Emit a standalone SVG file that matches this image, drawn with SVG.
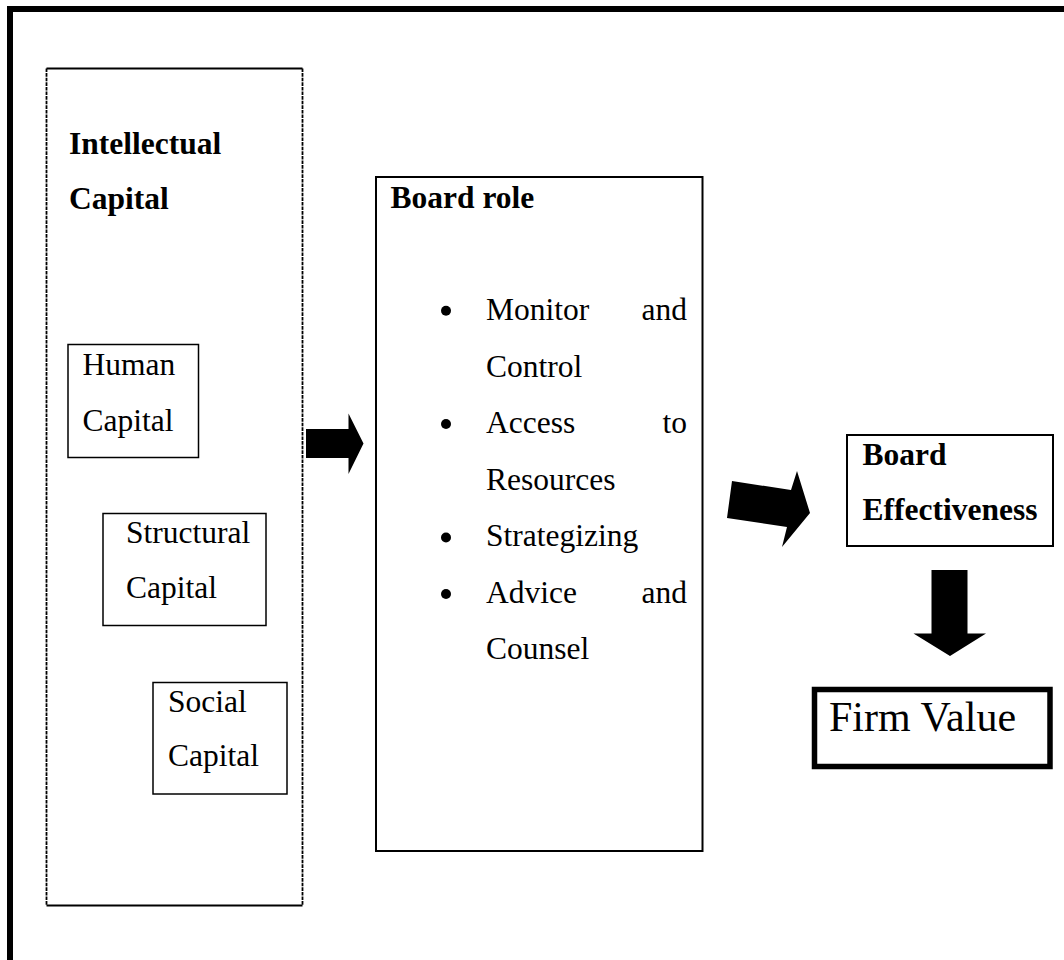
<svg xmlns="http://www.w3.org/2000/svg" width="1064" height="960" viewBox="0 0 1064 960">
  <style>
    text { font-family: "Liberation Serif", "Times New Roman", serif; font-size: 31.5px; fill: #000; }
    .b { font-weight: bold; }
    .box { fill: none; stroke: #000; stroke-width: 1.5; }
    .box2 { fill: none; stroke: #000; stroke-width: 2; }
    .dash { fill: none; stroke: #000; stroke-width: 1.8; stroke-dasharray: 3.6 1; }
    .solid { fill: none; stroke: #000; stroke-width: 1.8; }
    .arrow { fill: #000; stroke: none; }
  </style>

  <rect width="1064" height="960" fill="#fff"/>

  <!-- page frame (top and left edges) -->
  <path d="M10,960 V9 H1064" fill="none" stroke="#000" stroke-width="6"/>

  <!-- intellectual capital container -->
  <g id="intellectual-capital">
    <line class="solid" x1="46.5" y1="68.5" x2="302.5" y2="68.5"/>
    <line class="solid" x1="46.5" y1="905.5" x2="302.5" y2="905.5"/>
    <line class="dash" x1="46.5" y1="68.5" x2="46.5" y2="905.5"/>
    <line class="dash" x1="302.5" y1="68.5" x2="302.5" y2="905.5"/>
    <text class="b" x="69" y="154">Intellectual</text>
    <text class="b" x="69" y="209">Capital</text>
  </g>

  <g id="human-capital">
    <rect class="box" x="68" y="344.5" width="130.5" height="113"/>
    <text x="82.5" y="375">Human</text>
    <text x="82.5" y="431">Capital</text>
  </g>

  <g id="structural-capital">
    <rect class="box" x="103" y="513.5" width="163" height="112"/>
    <text x="126" y="542.5">Structural</text>
    <text x="126" y="598">Capital</text>
  </g>

  <g id="social-capital">
    <rect class="box" x="153" y="682.5" width="134" height="111.5"/>
    <text x="168" y="712">Social</text>
    <text x="168" y="766">Capital</text>
  </g>

  <!-- board role -->
  <g id="board-role">
    <rect class="box2" x="376" y="177" width="326.5" height="674"/>
    <text class="b" x="390.5" y="208">Board role</text>
    <circle cx="446" cy="310.7" r="5"/>
    <text x="486" y="320">Monitor</text>
    <text x="687" y="320" text-anchor="end">and</text>
    <text x="486" y="376.5">Control</text>
    <circle cx="446" cy="424" r="5"/>
    <text x="486" y="433">Access</text>
    <text x="687" y="433" text-anchor="end">to</text>
    <text x="486" y="489.5">Resources</text>
    <circle cx="446" cy="537.5" r="5"/>
    <text x="486" y="546">Strategizing</text>
    <circle cx="446" cy="594" r="5"/>
    <text x="486" y="602.5">Advice</text>
    <text x="687" y="602.5" text-anchor="end">and</text>
    <text x="486" y="659">Counsel</text>
  </g>

  <!-- board effectiveness -->
  <g id="board-effectiveness">
    <rect class="box2" x="847" y="435" width="206" height="111"/>
    <text class="b" x="862.5" y="465">Board</text>
    <text class="b" x="862.5" y="520">Effectiveness</text>
  </g>

  <!-- firm value -->
  <g id="firm-value">
    <rect x="814.5" y="689.5" width="235.5" height="77" fill="none" stroke="#000" stroke-width="5.5"/>
    <text x="829" y="731" style="font-size:42px">Firm Value</text>
  </g>

  <!-- block arrows -->
  <g id="connectors">
    <polygon class="arrow" points="306,429 348.5,429 348.5,413.5 363.5,443.5 348.5,474 348.5,458 306,458"/>
    <polygon class="arrow" points="732,481 791,490 797,471 810,513 782,547 787,527 727,518"/>
    <polygon class="arrow" points="931.5,570 967.5,570 967.5,633.5 986,633.5 950,656 913.5,633.5 931.5,633.5"/>
  </g>
</svg>
